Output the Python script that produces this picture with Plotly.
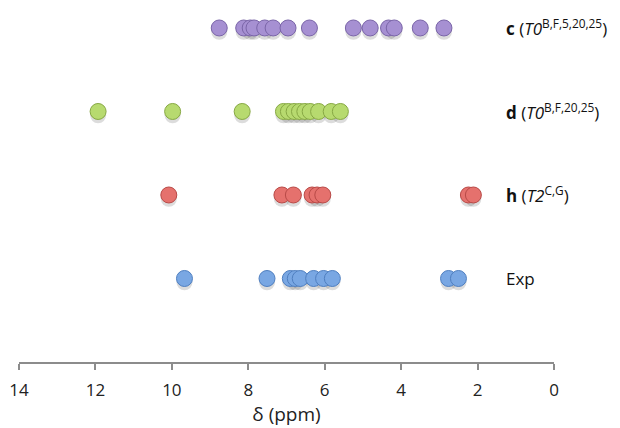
import plotly.graph_objects as go

# Chemical shifts (ppm) for each row
c_vals = [8.76, 8.12, 7.95, 7.85, 7.57, 7.35, 6.96, 6.40, 5.25, 4.81, 4.33, 4.18, 3.50, 2.88]
d_vals = [11.93, 9.98, 8.16, 7.08, 6.95, 6.80, 6.66, 6.52, 6.38, 6.16, 5.83, 5.59]
h_vals = [10.08, 7.12, 6.82, 6.33, 6.20, 6.05, 2.24, 2.11]
exp_vals = [9.67, 7.51, 6.90, 6.77, 6.64, 6.29, 6.03, 5.80, 2.76, 2.50]

rows = [
    ("Exp", exp_vals, 1, "#79a7e3", "#4f7fc0", "Exp"),
    ("h", h_vals, 2, "#e5716d", "#b84a47", "<b>h</b> (<i>T2</i><sup>C,G</sup>)"),
    ("d", d_vals, 3, "#b7da6f", "#87a844", "<b>d</b> (<i>T0</i><sup>B,F,20,25</sup>)"),
    ("c", c_vals, 4, "#a690d2", "#7a65a8", "<b>c</b> (<i>T0</i><sup>B,F,5,20,25</sup>)"),
]
x_ticks = [14, 12, 10, 8, 6, 4, 2, 0]

fig = go.Figure()
for name, vals, yv, fill, line, label in rows:
    # soft shadow
    fig.add_trace(go.Scatter(
        x=vals, y=[yv - 0.045] * len(vals), mode="markers",
        marker=dict(size=16, color="rgba(60,60,60,0.18)", line=dict(width=0)),
        hoverinfo="skip", showlegend=False))
    fig.add_trace(go.Scatter(
        x=vals, y=[yv] * len(vals), mode="markers", name=name,
        marker=dict(size=16, color=fill, line=dict(color=line, width=1)),
        showlegend=False))
    fig.add_annotation(x=1.32, y=yv, xref="x", yref="y", text=label,
                       showarrow=False, xanchor="left", yanchor="middle",
                       font=dict(family="Open Sans, Liberation Sans, sans-serif", size=17, color="#111"))

fig.update_layout(
    width=620, height=428,
    margin=dict(l=19, r=66, t=0, b=66),
    paper_bgcolor="white", plot_bgcolor="white",
    font=dict(family="Open Sans, Liberation Sans, sans-serif", color="#222"),
    xaxis=dict(range=[14, 0], tickvals=x_ticks, ticktext=[str(t) for t in x_ticks],
               showgrid=False, zeroline=False, showline=True, linecolor="#8c8c8c", linewidth=1.5,
               ticks="outside", ticklen=6, tickcolor="#8c8c8c", tickwidth=1.5,
               ticklabelstandoff=6,
               tickfont=dict(size=17, color="#222"),
               title=dict(text="δ (ppm)", font=dict(size=19, color="#222"), standoff=2)),
    yaxis=dict(range=[0, 4.335], visible=False, showgrid=False, zeroline=False),
)
fig.write_html("out.html")
